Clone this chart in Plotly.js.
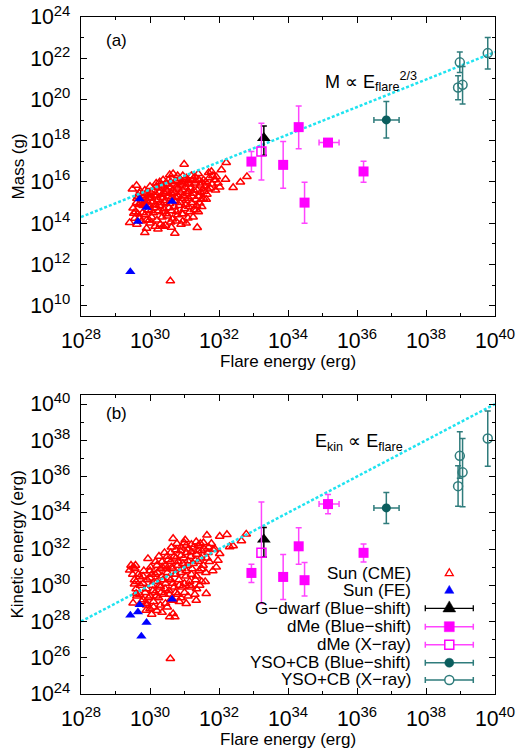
<!DOCTYPE html>
<html><head><meta charset="utf-8">
<script src="https://cdn.plot.ly/plotly-3.0.1.min.js"></script>
<style>html,body{margin:0;padding:0;background:#fff}#chart{width:518px;height:752px}</style>
</head><body><div id="chart"></div>
<script>
// ---- values are log10 of the quantity ----
// Panel (a): Mass vs flare energy
const cmeA_E = [29.49,29.61,29.53,29.51,29.41,29.56,29.61,29.65,29.70,29.75,29.80,29.85,29.90,30.00,29.85,30.23,30.72,31.37,
  29.85,30.00,30.18,30.28,30.38,30.57,30.67,30.80,30.95,31.05,31.20,31.30,31.40,31.55,31.70,31.87,31.97,32.02,
  29.75,29.95,30.10,30.25,30.40,30.50,30.60,30.75,30.90,31.00,31.15,31.30,31.45,31.60,31.75,31.90,
  29.72,29.90,30.05,30.20,30.35,30.50,30.65,30.80,30.95,31.10,31.25,31.40,31.55,31.65,
  29.95,30.00,30.15,30.30,30.45,30.60,30.75,30.90,31.05,31.20,31.35,31.50,
  29.65,30.10,30.25,30.40,30.55,30.70,30.85,31.00,31.15,31.25,
  29.75,30.05,30.20,30.35,30.50,30.65,30.80,30.95,31.10,
  29.90,30.15,30.30,30.45,30.60,30.90,31.05,
  30.99,32.21,32.07,31.78,32.19,32.41,32.62,32.81,31.63,31.49,31.44,31.34,30.59,
  29.62,29.68,29.72,29.78,29.82,29.88,29.92,29.97,30.02,30.03,30.08,30.12,30.13,30.17,30.22,30.27,30.28,30.32,30.33,30.37,
  30.42,30.43,30.47,30.48,30.52,30.53,30.57,30.58,30.62,30.63,30.68,30.70,30.72,30.77,30.78,30.82,30.85,30.87,30.88,30.92,
  30.93,30.97,31.00,31.02,31.03,31.07,31.12,31.13,31.17,31.22,31.23,31.27,31.32,31.33,31.37,31.42,31.47,31.52,31.57,31.62,
  31.67,31.72,31.80,31.82,31.92,29.58,29.62,29.70,29.78,29.98,30.38,30.62,30.75,30.95,31.12,31.28,31.40];
const cmeA_M = [15.65,15.83,14.48,14.73,14.03,14.24,15.00,15.30,15.45,15.10,14.85,14.40,14.15,14.00,13.54,13.72,13.51,13.79,
  15.60,15.78,15.94,16.00,16.10,16.35,16.40,16.30,16.30,16.20,16.30,16.25,16.40,16.10,16.45,16.10,15.95,15.75,
  15.35,15.40,15.60,15.70,15.80,15.90,16.00,16.05,16.00,15.95,15.90,15.95,15.85,15.80,15.70,15.60,
  14.95,15.10,15.25,15.35,15.40,15.55,15.60,15.70,15.60,15.55,15.45,15.30,15.20,15.40,
  14.65,14.85,14.90,15.00,15.10,15.20,15.25,15.20,15.10,15.00,14.85,14.80,
  14.45,14.50,14.60,14.70,14.75,14.80,14.85,14.70,14.55,14.30,
  14.10,14.30,14.15,14.30,14.35,14.20,14.40,14.10,14.25,
  13.75,13.85,13.95,13.90,14.05,13.95,14.00,
  16.86,16.94,16.59,16.51,16.13,15.73,15.99,16.26,15.16,15.16,14.97,14.65,11.20,
  15.20,14.90,15.55,15.25,15.00,15.45,14.90,15.20,15.50,14.60,15.05,15.35,14.75,15.75,15.15,15.50,14.85,15.25,15.85,14.55,
  15.45,15.00,15.65,14.45,15.30,16.10,14.95,15.75,15.45,14.60,15.90,15.10,15.50,14.55,15.80,15.30,16.15,15.00,15.50,15.85,
  14.45,15.35,16.10,15.75,14.90,15.45,16.05,15.20,15.70,15.30,16.10,15.60,16.05,15.15,15.60,16.10,15.50,15.95,15.55,16.00,
  15.65,16.20,15.90,16.30,16.25,14.55,13.95,14.25,14.50,14.15,13.85,13.80,14.10,14.45,14.80,14.65,14.55];
const feA_E = [29.70,29.90,29.65,30.64,29.43];
const feA_M = [15.18,14.76,14.08,15.05,11.65];
const gA_E = [33.30], gA_M = [18.13], gA_Mlo = [17.30], gA_Mhi = [18.72];
const dbA_E = [32.94,33.86,34.31,35.16,36.19,34.48];
const dbA_M = [16.99,16.83,18.66,17.91,16.51,15.00];
const dbA_Mlo = [16.50,15.70,17.61,null,15.99,14.00];
const dbA_Mhi = [17.48,17.96,19.69,null,17.01,15.99];
const dbA_Elo = [null,null,null,34.90,null,null];
const dbA_Ehi = [null,null,null,35.48,null,null];
const dxA_E = [33.23], dxA_M = [17.48], dxA_Mlo = [16.10], dxA_Mhi = [18.85];
const ybA_E = [36.85], ybA_M = [19.01], ybA_Mlo = [18.13], ybA_Mhi = [19.90], ybA_Elo = [36.49], ybA_Ehi = [37.22];
const yxA_E = [38.98,38.93,39.06,39.79];
const yxA_M = [21.80,20.58,20.71,22.25];
const yxA_Mlo = [21.31,19.99,19.78,21.48];
const yxA_Mhi = [22.30,21.15,21.60,23.01];
const fitA_E = [28,40], fitA_M = [14.3,22.3];

// Panel (b): Kinetic energy vs flare energy
const cmeB_E = [29.41,29.51,29.56,29.70,29.94,30.67,30.99,31.34,31.65,32.02,32.23,32.41,32.65,32.79,31.97,31.83,32.02,31.60,31.44,31.35,31.20,30.90,30.67,30.72,30.57,30.20,30.10,29.90,30.59,
  32.31,29.55,29.60,29.51,29.89,30.67,31.05,31.63,31.34,
  29.60,29.80,30.00,30.20,30.35,30.50,30.60,30.75,30.90,31.05,31.20,31.40,31.55,31.70,
  29.60,29.80,30.00,30.15,30.30,30.45,30.60,30.75,30.90,31.05,31.20,31.35,31.50,31.65,
  29.70,29.90,30.05,30.20,30.35,30.50,30.65,30.80,30.95,31.10,31.25,31.40,31.50,
  29.80,30.00,30.15,30.30,30.45,30.60,30.75,30.90,31.05,31.20,31.35,
  29.90,30.10,30.25,30.40,30.55,30.70,30.85,31.00,31.15,
  30.00,30.30,30.45,30.60,30.80,31.00,
  29.55,29.62,29.66,29.72,29.76,29.82,29.86,29.92,29.96,30.02,30.05,30.08,30.12,30.16,30.18,30.22,30.26,30.28,30.32,30.36,
  30.38,30.42,30.44,30.48,30.52,30.54,30.56,30.62,30.64,30.66,30.70,30.72,30.74,30.78,30.82,30.84,30.88,30.92,30.94,30.98,
  31.02,31.04,31.08,31.12,31.14,31.18,31.22,31.26,31.30,31.32,31.38,31.42,31.46,31.48,31.54,31.58,31.62,31.68,31.72,31.78,
  31.82,31.88,31.92,30.05,30.35,30.50,30.85,31.10,31.30,31.50,29.50,29.45,29.58];
const cmeB_K = [30.83,31.00,30.92,30.46,31.47,32.58,32.34,32.40,32.76,32.70,32.80,32.17,32.45,32.82,31.38,31.97,31.75,30.20,30.00,29.80,29.90,29.30,28.43,28.25,28.25,28.60,28.80,29.00,25.95,
  32.12,30.06,29.54,29.02,28.62,29.17,28.99,29.54,29.17,
  30.20,30.50,30.80,31.10,31.30,31.60,31.80,31.95,32.10,32.20,32.25,32.20,32.35,32.10,
  29.80,30.10,30.40,30.60,30.90,31.10,31.30,31.50,31.65,31.80,31.85,31.70,31.90,31.50,
  29.50,29.80,30.00,30.20,30.50,30.70,30.90,31.10,31.20,31.35,31.20,31.30,30.90,
  29.20,29.40,29.60,29.90,30.10,30.30,30.60,30.70,30.80,30.60,30.50,
  28.90,29.10,29.30,29.50,29.70,29.90,30.00,30.10,30.20,
  28.70,28.90,29.00,29.20,29.50,29.60,
  30.30,29.40,30.60,30.00,29.10,30.80,29.60,30.30,29.30,31.00,30.60,29.70,30.20,31.30,29.40,30.70,31.60,30.00,29.60,31.00,
  30.30,31.80,29.80,30.90,31.40,30.40,29.50,32.10,31.00,30.10,31.60,30.60,29.60,32.30,31.30,30.30,31.90,30.90,29.90,31.50,
  32.50,30.50,31.10,32.00,30.00,31.60,30.90,32.10,31.40,30.30,31.90,30.80,32.30,31.50,31.10,32.00,30.70,31.80,31.30,32.30,
  30.80,32.00,31.00,28.40,28.50,28.80,29.10,29.40,29.50,30.20,30.60,31.10,31.10];
const feB_E = [29.70,29.65,29.43,29.90,29.75,30.64];
const feB_K = [28.93,28.53,28.34,27.94,27.18,29.23];
const gB_E = [33.30], gB_K = [32.52], gB_Klo = [31.56], gB_Khi = [33.19];
const dbB_E = [32.94,33.86,34.31,35.16,36.19,34.48];
const dbB_K = [30.68,30.46,32.15,34.48,31.79,30.28];
const dbB_Klo = [30.15,29.21,31.16,33.94,31.29,29.41];
const dbB_Khi = [31.16,31.70,33.17,35.01,32.28,31.25];
const dbB_Elo = [null,null,null,34.90,null,null];
const dbB_Ehi = [null,null,null,35.48,null,null];
const dxB_E = [33.23], dxB_K = [31.79], dxB_Klo = [29.00], dxB_Khi = [34.60];
const ybB_E = [36.85], ybB_K = [34.27], ybB_Klo = [33.41], ybB_Khi = [35.12], ybB_Elo = [36.49], ybB_Ehi = [37.22];
const yxB_E = [38.98,38.93,39.06,39.79];
const yxB_K = [37.14,35.47,36.23,38.10];
const yxB_Klo = [35.90,34.36,34.33,36.57];
const yxB_Khi = [38.47,36.60,38.10,39.61];
const fitB_E = [28,40], fitB_K = [28,40];

const legendLabels = ['Sun (CME)','Sun (FE)','G\u2212dwarf (Blue\u2212shift)','dMe (Blue\u2212shift)','dMe (X\u2212ray)','YSO+CB (Blue\u2212shift)','YSO+CB (X\u2212ray)'];
const xTitle = 'Flare energy (erg)', yTitleA = 'Mass (g)', yTitleB = 'Kinetic energy (erg)';

// ---- helpers ----
const P = a => a.map(v => v == null ? NaN : Math.pow(10, v));
function err(v, lo, hi, color) {
  const V = P(v), L = P(lo), H = P(hi);
  return {type:'data', symmetric:false, array:V.map((x,i)=>H[i]-x), arrayminus:V.map((x,i)=>x-L[i]),
          color:color, thickness:1.5, width:3};
}
const RED='#ff0000', BLUE='#0000ff', MAG='#ff00ff', MAGE='#ff44ff', TEAL='#0b5e5e', TEALE='#2f7c7c', CYAN='#1fe3f0';

function panel(xa, ya, d) {
  return [
    {x:P(d.cE), y:P(d.cY), xaxis:xa, yaxis:ya, mode:'markers', type:'scatter', showlegend:false,
     marker:{symbol:'triangle-up-open', size:7.5, color:RED, line:{width:1.5, color:RED}}},
    {x:P(d.fE), y:P(d.fY), xaxis:xa, yaxis:ya, mode:'markers', type:'scatter', showlegend:false,
     marker:{symbol:'triangle-up', size:9, color:BLUE}},
    {x:P(d.lE), y:P(d.lY), xaxis:xa, yaxis:ya, mode:'lines', type:'scatter', showlegend:false,
     line:{color:CYAN, width:2.5, dash:'3px,2px'}},
    {x:P(d.gE), y:P(d.gY), xaxis:xa, yaxis:ya, mode:'markers', type:'scatter', showlegend:false,
     marker:{symbol:'triangle-up', size:12, color:'#000'}, error_y:err(d.gY, d.gYlo, d.gYhi, '#000')},
    {x:P(d.bE), y:P(d.bY), xaxis:xa, yaxis:ya, mode:'markers', type:'scatter', showlegend:false,
     marker:{symbol:'square', size:10, color:MAG},
     error_y:err(d.bY, d.bYlo, d.bYhi, MAGE), error_x:err(d.bE, d.bElo, d.bEhi, MAGE)},
    {x:P(d.xE), y:P(d.xY), xaxis:xa, yaxis:ya, mode:'markers', type:'scatter', showlegend:false,
     marker:{symbol:'square-open', size:9, color:MAG, line:{width:1.5}}, error_y:err(d.xY, d.xYlo, d.xYhi, MAGE)},
    {x:P(d.yE), y:P(d.yY), xaxis:xa, yaxis:ya, mode:'markers', type:'scatter', showlegend:false,
     marker:{symbol:'circle', size:9, color:TEAL},
     error_y:err(d.yY, d.yYlo, d.yYhi, TEALE), error_x:err(d.yE, d.yElo, d.yEhi, TEALE)},
    {x:P(d.oE), y:P(d.oY), xaxis:xa, yaxis:ya, mode:'markers', type:'scatter', showlegend:false,
     marker:{symbol:'circle-open', size:9, color:TEALE, line:{width:1.5}}, error_y:err(d.oY, d.oYlo, d.oYhi, TEALE)}
  ];
}

const traces = panel('x','y',{cE:cmeA_E,cY:cmeA_M,fE:feA_E,fY:feA_M,lE:fitA_E,lY:fitA_M,
  gE:gA_E,gY:gA_M,gYlo:gA_Mlo,gYhi:gA_Mhi,bE:dbA_E,bY:dbA_M,bYlo:dbA_Mlo,bYhi:dbA_Mhi,bElo:dbA_Elo,bEhi:dbA_Ehi,
  xE:dxA_E,xY:dxA_M,xYlo:dxA_Mlo,xYhi:dxA_Mhi,yE:ybA_E,yY:ybA_M,yYlo:ybA_Mlo,yYhi:ybA_Mhi,yElo:ybA_Elo,yEhi:ybA_Ehi,
  oE:yxA_E,oY:yxA_M,oYlo:yxA_Mlo,oYhi:yxA_Mhi})
 .concat(panel('x2','y2',{cE:cmeB_E,cY:cmeB_K,fE:feB_E,fY:feB_K,lE:fitB_E,lY:fitB_K,
  gE:gB_E,gY:gB_K,gYlo:gB_Klo,gYhi:gB_Khi,bE:dbB_E,bY:dbB_K,bYlo:dbB_Klo,bYhi:dbB_Khi,bElo:dbB_Elo,bEhi:dbB_Ehi,
  xE:dxB_E,xY:dxB_K,xYlo:dxB_Klo,xYhi:dxB_Khi,yE:ybB_E,yY:ybB_K,yYlo:ybB_Klo,yYhi:ybB_Khi,yElo:ybB_Elo,yEhi:ybB_Ehi,
  oE:yxB_E,oY:yxB_K,oYlo:yxB_Klo,oYhi:yxB_Khi}));

const FONT = 'Liberation Sans, Arial, Helvetica, sans-serif';
const TF = {family:FONT, size:17, color:'#000'};
function logAxis(range, extra) {
  return Object.assign({
    type:'log', range:range, dtick:2, tick0:0, exponentformat:'power', showexponent:'all',
    ticks:'inside', ticklen:6, tickwidth:1, tickcolor:'#000', mirror:'ticks',
    showline:true, linecolor:'#000', linewidth:1.2, showgrid:false, zeroline:false,
    minor:{dtick:1, ticks:'inside', ticklen:3, tickwidth:1, tickcolor:'#000', showgrid:false},
    tickfont:TF, ticklabelstandoff:6
  }, extra);
}

const yDomA = [0.5583, 1], yDomB = [0, 0.4417];
const legX = 0.8896, legTextX = 0.8027;
const legY = [0.1783, 0.1526, 0.1266, 0.0994, 0.0728, 0.0462, 0.0207];

function ann(text, x, y, xanchor, extra) {
  return Object.assign({text:text, x:x, y:y, xref:'paper', yref:'paper', showarrow:false,
    xanchor:xanchor, yanchor:'middle', font:TF}, extra || {});
}
const annotations = [
  ann(xTitle, 0.5, 0.4908, 'center'),
  ann(xTitle, 0.5, -0.0679, 'center'),
  ann(yTitleA, -0.1522, 0.7792, 'center', {textangle:-90}),
  ann(yTitleB, -0.1522, 0.2208, 'center', {textangle:-90}),
  ann('(a)', 0.0862, 0.966, 'center'),
  ann('(b)', 0.0862, 0.4146, 'center'),
  ann('M \u221d E<sub>flare</sub><sup>2/3</sup>', 0.5853, 0.905, 'left', {font:{family:FONT,size:18,color:'#000'}}),
  ann('E<sub>kin</sub> \u221d E<sub>flare</sub>', 0.5611, 0.372, 'left', {font:{family:FONT,size:18,color:'#000'}})
].concat(legendLabels.map((t,i)=>ann(t, legTextX, legY[i], 'right')));

function pshape(yy, path, color, fill, w) {
  return {type:'path', xref:'paper', yref:'paper', xsizemode:'pixel', ysizemode:'pixel', xanchor:legX, yanchor:yy,
          path:path, line:{color:color, width:w}, fillcolor:fill};
}
const barPath = 'M-24,0H24M-24,-3V3M24,-3V3';
const shapes = [
  pshape(legY[0], 'M-4,-2.3H4L0,4.6Z', RED, 'rgba(0,0,0,0)', 1.3),
  pshape(legY[1], 'M-4.6,-2.6H4.6L0,5.3Z', BLUE, BLUE, 0.5),
  pshape(legY[2], barPath, '#000', 'rgba(0,0,0,0)', 1.3),
  pshape(legY[2], 'M-6.4,-3.6H6.4L0,7.4Z', '#000', '#000', 0.5),
  pshape(legY[3], barPath, MAGE, 'rgba(0,0,0,0)', 1.5),
  pshape(legY[3], 'M-5,-5H5V5H-5Z', MAG, MAG, 0.5),
  pshape(legY[4], barPath, MAGE, 'rgba(0,0,0,0)', 1.5),
  pshape(legY[4], 'M-4.5,-4.5H4.5V4.5H-4.5Z', MAG, '#fff', 1.5),
  pshape(legY[5], barPath, TEALE, 'rgba(0,0,0,0)', 1.5),
  {type:'circle', xref:'paper', yref:'paper', xsizemode:'pixel', ysizemode:'pixel', xanchor:legX, yanchor:legY[5],
   x0:-4.5, x1:4.5, y0:-4.5, y1:4.5, line:{color:TEAL, width:0.5}, fillcolor:TEAL},
  pshape(legY[6], barPath, TEALE, 'rgba(0,0,0,0)', 1.5),
  {type:'circle', xref:'paper', yref:'paper', xsizemode:'pixel', ysizemode:'pixel', xanchor:legX, yanchor:legY[6],
   x0:-4.5, x1:4.5, y0:-4.5, y1:4.5, line:{color:TEALE, width:1.5}, fillcolor:'#fff'}
];

const layout = {
  width:518, height:752, margin:{l:81, r:23, t:17, b:58}, paper_bgcolor:'#fff', plot_bgcolor:'#fff',
  showlegend:false, font:TF,
  xaxis: logAxis([28,40], {anchor:'y', domain:[0,1]}),
  yaxis: logAxis([9.5,24], {anchor:'x', domain:yDomA}),
  xaxis2: logAxis([28,40], {anchor:'y2', domain:[0,1]}),
  yaxis2: logAxis([24,40.5], {anchor:'x2', domain:yDomB}),
  annotations:annotations, shapes:shapes
};

Plotly.newPlot('chart', traces, layout, {staticPlot:true, displayModeBar:false});
</script></body></html>
